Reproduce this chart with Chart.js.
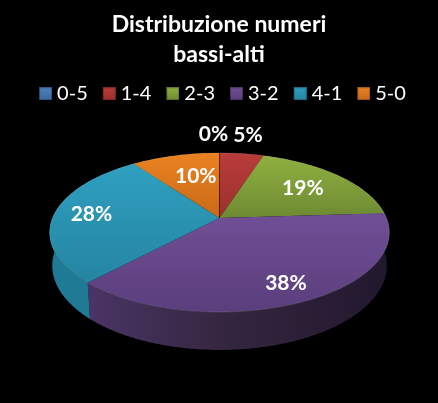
<!DOCTYPE html>
<html>
<head>
<meta charset="utf-8">
<style>
  html, body { margin: 0; padding: 0; background: #000; }
  canvas { display: block; }
</style>
<script src="https://cdn.jsdelivr.net/npm/chart.js@4"></script>
</head>
<body>
<canvas id="pie" width="438" height="403"></canvas>
<script>
const categories = ["0-5", "1-4", "2-3", "3-2", "4-1", "5-0"];
const values = [0, 5, 19, 38, 28, 10];

const topLight = ["#4f81bd", "#b83c3a", "#8fb040", "#714f97", "#2f9fc0", "#ea8220"];
const topDark = ["#3a6aa0", "#9c302e", "#6e8a33", "#5a3e7c", "#2585a2", "#c96a18"];
const sideLeft = ["#2b4f7a", "#6e2221", "#506426", "#4a3466", "#1f7a96", "#8e4c12"];
const sideMid = ["#2b4f7a", "#6e2221", "#506426", "#35263f", "#1f7288", "#8e4c12"];
const sideRight = ["#2b4f7a", "#6e2221", "#506426", "#21182e", "#1f6a82", "#8e4c12"];

// where each percent label sits, as a fraction of the pie radius along its slice
const labelRadius = [1.36, 1.36, 0.68, 0.81, 0.775, 0.64];
const labelNudge = [-6, 0, 0, 0, 0, 6];

// perspective of the tilted disc
const view = { x0: 219.5, y0: 218, q: 167, p: 76.9, c: -0.182, e: 0.015, f: 33 };

function project(theta, r, z) {
  const u = Math.cos(theta) * r, v = Math.sin(theta) * r;
  const w = 1 + view.c * v + view.e * z;
  return { x: view.x0 + view.q * u / w, y: view.y0 + (view.p * v + view.f * z) / w };
}

function swatch(i) {
  // transparent strip on the left keeps the box close to its text in the legend
  const c = document.createElement("canvas");
  c.width = 18; c.height = 13;
  const g = c.getContext("2d");
  const grad = g.createLinearGradient(0, 0, 0, 13);
  grad.addColorStop(0, topLight[i]);
  grad.addColorStop(1, topDark[i]);
  g.fillStyle = grad;
  g.fillRect(5, 0, 13, 13);
  g.strokeStyle = "rgba(0,0,0,.3)";
  g.strokeRect(5.5, 0.5, 12, 12);
  return c;
}

const pie3d = {
  id: "pie3d",
  afterLayout(chart) {
    chart.legend.left += 3.5;
    chart.legend.right += 3.5;
    chart.legend.top -= 1;
    chart.legend.bottom -= 1;
  },
  beforeDatasetsDraw(chart) {
    const ctx = chart.ctx;
    const arcs = chart.getDatasetMeta(0).data;

    // side wall first, the top covers whatever is behind it
    arcs.forEach((arc, i) => {
      const { startAngle, endAngle } = arc;
      if (endAngle - startAngle <= 0) return;
      const grad = ctx.createLinearGradient(88, 0, 389, 0);
      grad.addColorStop(0, sideLeft[i]);
      grad.addColorStop(0.45, sideMid[i]);
      grad.addColorStop(1, sideRight[i]);
      ctx.fillStyle = grad;
      ctx.beginPath();
      const steps = Math.ceil((endAngle - startAngle) * 60);
      for (let s = 0; s <= steps; s++) {
        const p = project(startAngle + (endAngle - startAngle) * s / steps, 1, 0);
        if (s === 0) ctx.moveTo(p.x, p.y); else ctx.lineTo(p.x, p.y);
      }
      for (let s = steps; s >= 0; s--) {
        const p = project(startAngle + (endAngle - startAngle) * s / steps, 1, 1);
        ctx.lineTo(p.x, p.y);
      }
      ctx.closePath();
      ctx.fill();
    });

    // top face
    arcs.forEach((arc, i) => {
      const { startAngle, endAngle } = arc;
      if (endAngle - startAngle <= 0) return;
      const steps = Math.ceil((endAngle - startAngle) * 60);
      let lo = view.y0, hi = view.y0;
      ctx.beginPath();
      ctx.moveTo(view.x0, view.y0);
      for (let s = 0; s <= steps; s++) {
        const p = project(startAngle + (endAngle - startAngle) * s / steps, 1, 0);
        ctx.lineTo(p.x, p.y);
        lo = Math.min(lo, p.y); hi = Math.max(hi, p.y);
      }
      ctx.closePath();
      const grad = ctx.createLinearGradient(0, lo, 0, hi);
      grad.addColorStop(0, topLight[i]);
      grad.addColorStop(1, topDark[i]);
      ctx.fillStyle = grad;
      ctx.fill();
      ctx.strokeStyle = "rgba(255,255,255,.12)";
      ctx.lineWidth = 1;
      ctx.beginPath();
      for (let s = 0; s <= steps; s++) {
        const p = project(startAngle + (endAngle - startAngle) * s / steps, 1, 0);
        if (s === 0) ctx.moveTo(p.x, p.y); else ctx.lineTo(p.x, p.y);
      }
      ctx.stroke();
    });

    // the dark seam between the orange and red slices
    const seam = project(arcs[1].startAngle, 1, 0);
    ctx.strokeStyle = "rgba(60,0,0,.7)";
    ctx.lineWidth = 1;
    ctx.beginPath();
    ctx.moveTo(view.x0, view.y0);
    ctx.lineTo(seam.x, seam.y);
    ctx.stroke();

    // percent labels
    ctx.font = "bold 21px Lato";
    ctx.fillStyle = "#fff";
    ctx.textAlign = "center";
    ctx.textBaseline = "middle";
    arcs.forEach((arc, i) => {
      const mid = (arc.startAngle + arc.endAngle) / 2;
      const p = project(mid, labelRadius[i], 0);
      ctx.fillText(values[i] + "%", p.x + labelNudge[i], p.y);
    });
    return false;
  },
};

new Chart(document.getElementById("pie"), {
  type: "pie",
  data: {
    labels: categories,
    datasets: [{ data: values, backgroundColor: topLight }],
  },
  options: {
    responsive: false,
    devicePixelRatio: 1,
    animation: false,
    layout: { padding: { top: 10 } },
    plugins: {
      title: {
        display: true,
        text: ["Distribuzione numeri", "bassi-alti"],
        color: "#fff",
        font: { family: "Lato", size: 23, weight: "bold", lineHeight: 1.3 },
        padding: { top: 0, bottom: 0 },
      },
      legend: {
        position: "top",
        labels: {
          color: "#fff",
          font: { family: "Lato", size: 20 },
          usePointStyle: true,
          pointStyleWidth: 8,
          padding: 15,
          generateLabels: () =>
            categories.map((c, i) => ({
              text: c,
              fontColor: "#fff",
              pointStyle: swatch(i),
              lineWidth: 0,
              strokeStyle: "transparent",
              fillStyle: topLight[i],
              index: i,
            })),
        },
      },
      tooltip: { enabled: false },
    },
  },
  plugins: [pie3d],
});
</script>
</body>
</html>
